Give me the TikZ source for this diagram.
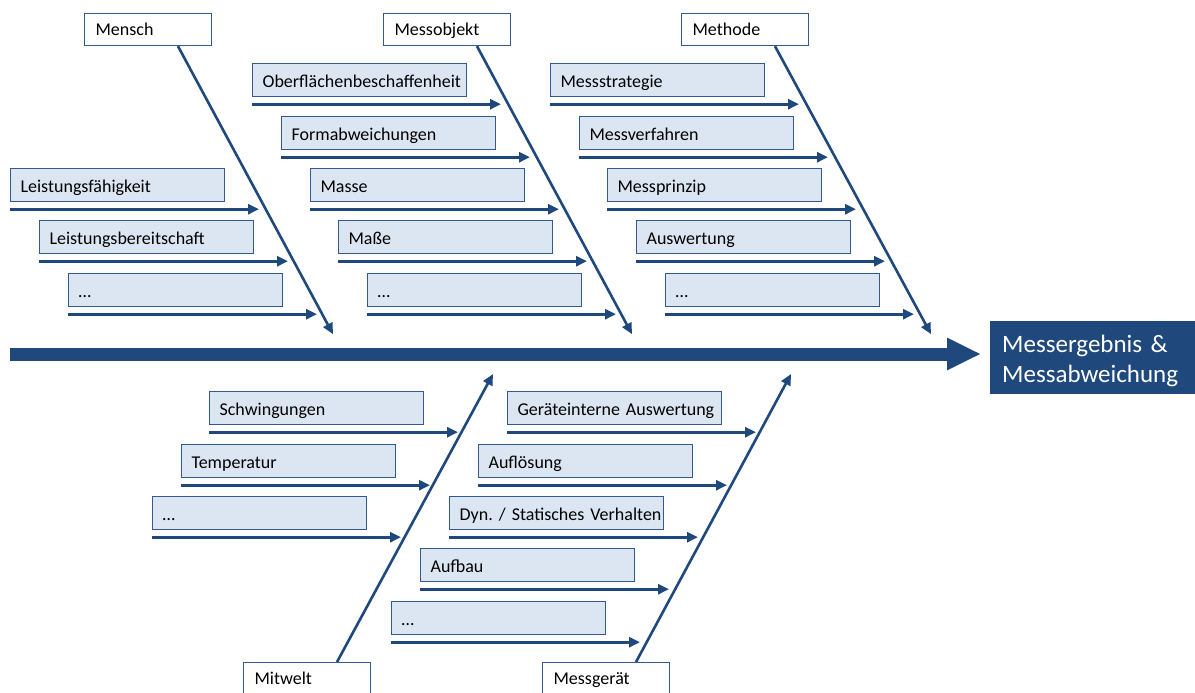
\documentclass[tikz,border=0pt]{standalone}
\usepackage{fontspec}
\setmainfont{Carlito}
\usetikzlibrary{arrows.meta}
\definecolor{fishblue}{RGB}{31,73,125}
\definecolor{boxline}{RGB}{52,90,140}
\definecolor{boxfill}{RGB}{220,230,242}
\frenchspacing
\begin{document}
\begin{tikzpicture}[x=1pt,y=-1pt,
  catbox/.style={draw=boxline,line width=1.2pt,fill=white,anchor=north west,
    minimum width=127pt,minimum height=32pt,text width=105pt,inner xsep=11pt,
    inner ysep=0pt,align=left,text height=13pt,text depth=1pt,
    font=\fontsize{18}{20}\selectfont},
  causebox/.style={draw=boxline,line width=1.2pt,fill=boxfill,anchor=north west,
    minimum width=214pt,minimum height=33pt,text width=194pt,inner xsep=10pt,
    inner ysep=0pt,align=left,text height=17pt,text depth=2pt,
    font=\fontsize{18}{20}\selectfont},
  twig/.style={draw=fishblue,line width=3pt,-{Triangle[length=11pt,width=10pt]}},
  bone/.style={draw=fishblue,line width=2.6pt,-{Triangle[length=11pt,width=10pt]}},
  spine/.style={draw=fishblue,line width=13pt,-{Triangle[length=34pt,width=30pt]}},
  resultbox/.style={fill=fishblue,anchor=north west,minimum width=205pt,
    minimum height=73pt,text width=181pt,inner xsep=12pt,inner ysep=0pt,
    align=left,text=white,text height=18pt,text depth=29pt,
    font=\fontsize{25}{30}\selectfont}]
\useasboundingbox (0,0) rectangle (1195,693);

% effect and main spine
\node[resultbox] (result) at (990,321) {Messergebnis \&\\Messabweichung};
\coordinate (spinestart) at (10,354);
\draw[spine] (spinestart) -- ([xshift=-9pt]result.west |- spinestart);

% main categories
\node[catbox] (mensch) at (84,13) {Mensch};
\node[catbox] (objekt) at (383,13) {Messobjekt};
\node[catbox] (methode) at (681,13) {Methode};
\node[catbox] (mitwelt) at (243,662) {Mitwelt};
\node[catbox] (geraet) at (542,662) {Messgerät};

% bones towards the spine
\draw[bone] ([xshift=94pt]mensch.south west) -- ++(155,288);
\draw[bone] ([xshift=94pt]objekt.south west) -- ++(155,288);
\draw[bone] ([xshift=94pt]methode.south west) -- ++(156,288);
\draw[bone] ([xshift=94pt]mitwelt.north west) -- ++(156,-288);
\draw[bone] ([xshift=94pt]geraet.north west) -- ++(155,-288);

% causes: Mensch
\node[causebox] (m1) at (10,168) {Leistungsfähigkeit};
\node[causebox] (m2) at (39,220) {Leistungsbereitschaft};
\node[causebox] (m3) at (68,273) {…};
% causes: Messobjekt
\node[causebox] (o1) at (252,63) {\mbox{Oberflächenbeschaffenheit}};
\node[causebox] (o2) at (281,116) {Formabweichungen};
\node[causebox] (o3) at (310,168) {Masse};
\node[causebox] (o4) at (338,220) {Maße};
\node[causebox] (o5) at (367,273) {…};
% causes: Methode
\node[causebox] (t1) at (550,63) {Messstrategie};
\node[causebox] (t2) at (579,116) {Messverfahren};
\node[causebox] (t3) at (607,168) {Messprinzip};
\node[causebox] (t4) at (636,220) {Auswertung};
\node[causebox] (t5) at (665,273) {…};
% causes: Mitwelt
\node[causebox] (w1) at (209,391) {Schwingungen};
\node[causebox] (w2) at (181,444) {Temperatur};
\node[causebox] (w3) at (152,496) {…};
% causes: Messgerät
\node[causebox] (g1) at (507,391) {\mbox{Geräteinterne Auswertung}};
\node[causebox] (g2) at (478,444) {Auflösung};
\node[causebox] (g3) at (449,496) {\mbox{Dyn. / Statisches Verhalten}};
\node[causebox] (g4) at (420,548) {Aufbau};
\node[causebox] (g5) at (391,601) {…};

% twig arrows under each cause
\foreach \c in {m1,m2,m3,o1,o2,o3,o4,o5,t1,t2,t3,t4,t5,w1,w2,w3,g1,g2,g3,g4,g5}
  \draw[twig] ([yshift=-7pt]\c.south west) -- ++(249,0);
\end{tikzpicture}
\end{document}
